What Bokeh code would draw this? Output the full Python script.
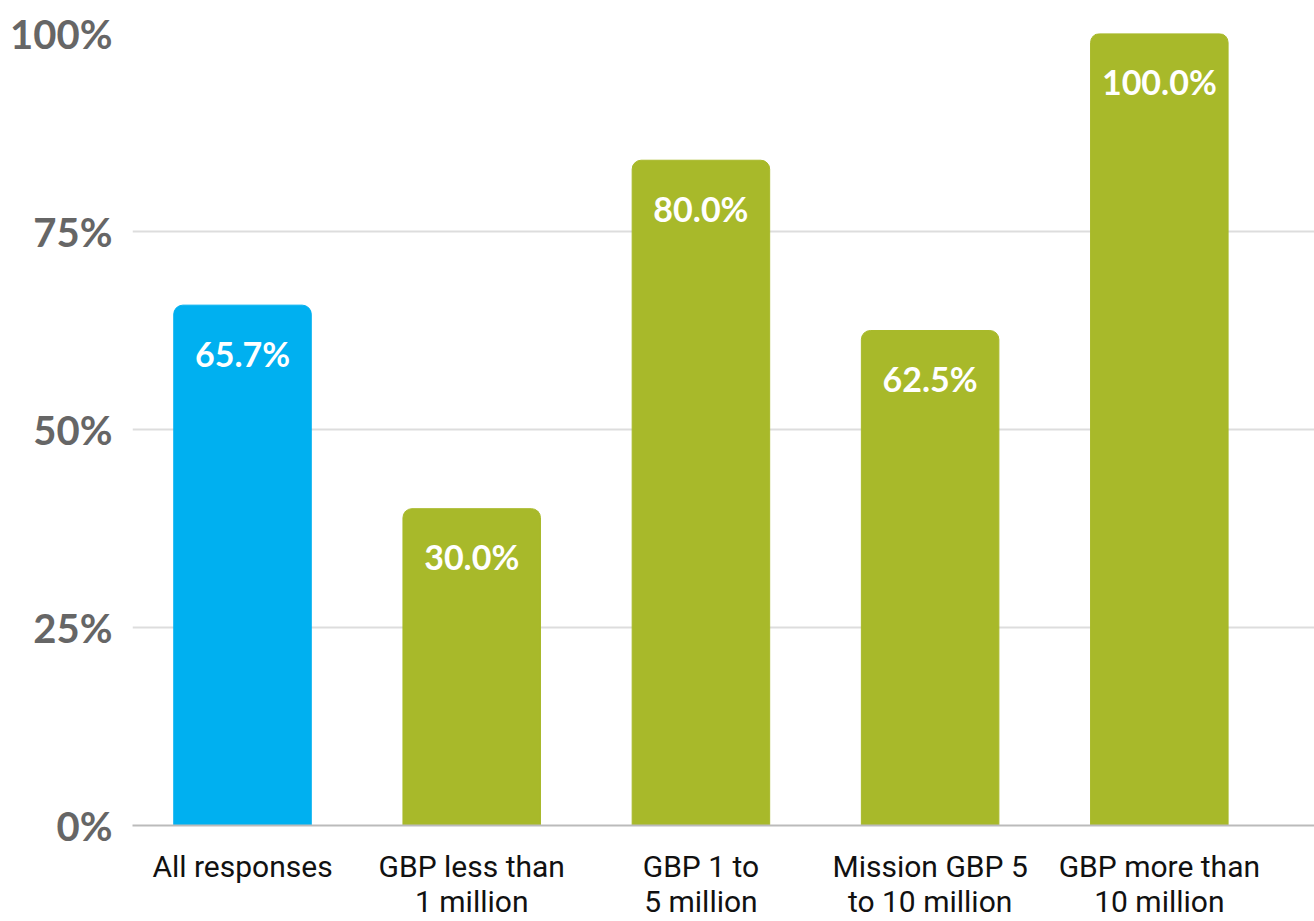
from bokeh.plotting import figure
from bokeh.models import Range1d, FixedTicker, ColumnDataSource
from bokeh.core.properties import value
from bokeh.embed import file_html
from bokeh.resources import INLINE

categories = ["All responses", "GBP less than\n1 million", "GBP 1 to\n5 million",
              "Mission GBP 5\nto 10 million", "GBP more than\n10 million"]
bar_heights = [65.7, 40.0, 84.0, 62.5, 100.0]
value_labels = ["65.7%", "30.0%", "80.0%", "62.5%", "100.0%"]
colors = ["#00B0F0", "#A8B92A", "#A8B92A", "#A8B92A", "#A8B92A"]
y_ticks = [0, 25, 50, 75, 100]
y_tick_labels = ["0%", "25%", "50%", "75%", "100%"]

xs = list(range(len(categories)))
src = ColumnDataSource(dict(x=xs, top=bar_heights, label=value_labels, color=colors))

p = figure(width=1314, height=921, output_backend="svg", toolbar_location=None,
           x_range=Range1d(-0.48, 4.677), y_range=Range1d(0, 100),
           min_border_left=132, min_border_top=33, min_border_right=0, min_border_bottom=0)
p.outline_line_color = None
p.background_fill_color = "white"
p.border_fill_color = "white"

p.vbar(x="x", top="top", bottom=0, width=0.6, color="color", source=src,
       border_radius=(9, 9, 0, 0))
p.text(x="x", y="top", text="label", source=src, y_offset=48,
       text_align="center", text_baseline="middle", text_color="white",
       text_font=value("Lato"), text_font_style="bold", text_font_size="34px")

# y axis
p.yaxis.ticker = FixedTicker(ticks=y_ticks)
p.yaxis.major_label_overrides = {t: l for t, l in zip(y_ticks, y_tick_labels)}
p.yaxis.axis_line_color = None
p.yaxis.major_tick_line_color = None
p.yaxis.minor_tick_line_color = None
p.yaxis.major_label_text_font = "Lato"
p.yaxis.major_label_text_font_style = "bold"
p.yaxis.major_label_text_font_size = "40px"
p.yaxis.major_label_text_color = "#666666"
p.yaxis.major_label_standoff = 14

# x axis
p.xaxis.ticker = FixedTicker(ticks=xs)
p.xaxis.major_label_overrides = {i: c for i, c in zip(xs, categories)}
p.xaxis.axis_line_color = "#bbbbbb"
p.xaxis.axis_line_width = 2
p.xaxis.major_tick_line_color = None
p.xaxis.minor_tick_line_color = None
p.xaxis.major_label_text_font = "Roboto"
p.xaxis.major_label_text_font_size = "30px"
p.xaxis.major_label_text_color = "#111111"
p.xaxis.major_label_text_line_height = 1.0
p.xaxis.major_label_standoff = 17

p.xgrid.grid_line_color = None
p.ygrid.grid_line_color = "#dddddd"
p.ygrid.grid_line_width = 2

open("out.html", "w").write(file_html(p, INLINE))
